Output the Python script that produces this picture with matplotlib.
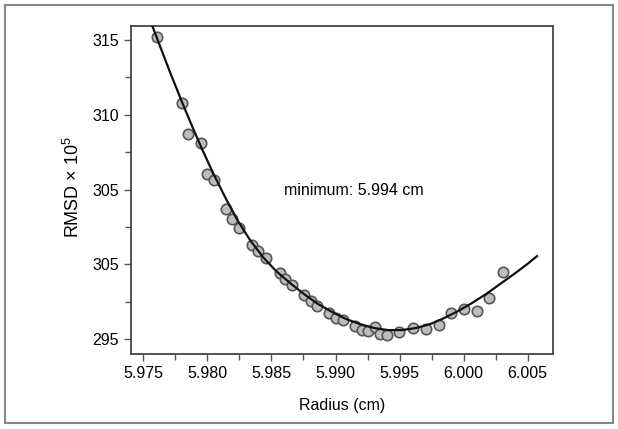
import matplotlib
matplotlib.use("Agg")
from matplotlib import pyplot as plt
from matplotlib.patches import Rectangle
from matplotlib.ticker import MultipleLocator

plt.rcParams['font.family'] = ['Liberation Sans', 'DejaVu Sans']
plt.rcParams['mathtext.fontset'] = 'custom'
plt.rcParams['mathtext.rm'] = 'Liberation Sans'

# measured points
radius = [5.97607, 5.97802, 5.97849, 5.97950, 5.97997, 5.98052, 5.98146, 5.98192,
          5.98247, 5.98349, 5.98395, 5.98458, 5.98567, 5.98606, 5.98661, 5.98754,
          5.98809, 5.98856, 5.98950, 5.99004, 5.99059, 5.99153, 5.99207, 5.99254,
          5.99309, 5.99348, 5.99402, 5.99496, 5.99605, 5.99707, 5.99808, 5.99902,
          6.00004, 6.00105, 6.00199, 6.00308]
rmsd = [315.20, 310.79, 308.71, 308.11, 306.04, 305.64, 303.70, 303.03,
        302.42, 301.29, 300.89, 300.42, 299.41, 299.01, 298.61, 297.94,
        297.54, 297.21, 296.74, 296.40, 296.27, 295.87, 295.60, 295.54,
        295.80, 295.33, 295.27, 295.47, 295.74, 295.67, 295.94, 296.74,
        297.01, 296.87, 297.74, 299.48]

# fitted curve
fit_r = [5.97568, 5.97630, 5.97708, 5.97802, 5.97880, 5.97958, 5.98052, 5.98146,
         5.98239, 5.98333, 5.98434, 5.98536, 5.98645, 5.98754, 5.98864, 5.98973,
         5.99082, 5.99191, 5.99300, 5.99410, 5.99519, 5.99628, 5.99738, 5.99847,
         5.99956, 6.00065, 6.00175, 6.00284, 6.00393, 6.00487, 6.00573]
fit_v = [316.00, 314.60, 312.86, 310.85, 309.25, 307.71, 305.97, 304.36,
         302.89, 301.62, 300.48, 299.55, 298.75, 298.01, 297.34, 296.81,
         296.34, 296.00, 295.74, 295.60, 295.60, 295.74, 296.00, 296.40,
         296.87, 297.41, 298.01, 298.68, 299.35, 299.95, 300.55]

yticks = [295, 300, 305, 310, 315]
ytick_labels = ['295', '305', '305', '310', '315']
xticks = [5.975, 5.980, 5.985, 5.990, 5.995, 6.000, 6.005]

fig = plt.figure(figsize=(6.18, 4.29), dpi=100)
ax = fig.add_axes([0.212, 0.1748, 0.683, 0.7646])

ax.plot(fit_r, fit_v, color='#111111', lw=1.6, zorder=3)
ax.plot(radius, rmsd, 'o', ms=7.5, mfc='#bdbdbd', mec='#555555', mew=1.2, zorder=2)

ax.set_xlim(5.97404, 6.00698)
ax.set_ylim(294.0, 315.94)
ax.set_xticks(xticks)
ax.set_xticklabels(['%.3f' % v for v in xticks])
ax.set_yticks(yticks)
ax.set_yticklabels(ytick_labels)
ax.xaxis.set_minor_locator(MultipleLocator(0.0025))
ax.yaxis.set_minor_locator(MultipleLocator(2.5))
ax.tick_params(which='both', direction='out', color='#555555', labelsize=11.5,
               top=False, right=False)
ax.tick_params(which='major', length=5, width=1)
ax.tick_params(which='minor', length=4, width=1)
for s in ax.spines.values():
    s.set_color('#444444')
    s.set_linewidth(1.3)

ax.set_xlabel('Radius (cm)', fontsize=11.5)
ax.set_ylabel(r'RMSD $\times$ 10$^{5}$', fontsize=13)
ax.xaxis.set_label_coords(0.5, -0.134)
ax.yaxis.set_label_coords(-0.113, 0.51)

ax.text(5.99145, 304.97, 'minimum: 5.994 cm', fontsize=11.5, ha='center', va='center')

fig.patches.append(Rectangle((5 / 618, 6 / 429), 608 / 618, 418 / 429, transform=fig.transFigure,
                             fill=False, ec='#888888', lw=1.5))

fig.savefig('out.png', dpi=100)
